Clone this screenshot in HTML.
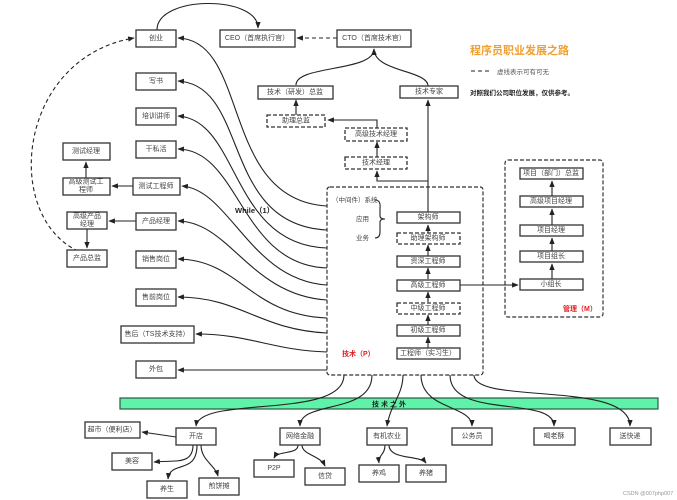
<!DOCTYPE html>
<html><head><meta charset="utf-8"><style>
body{margin:0;background:#fff;}
svg{display:block;font-family:"Liberation Sans","Noto Sans CJK SC",sans-serif;}
.b{fill:#fff;stroke:#333;stroke-width:1.3;}
.d{fill:#fff;stroke:#333;stroke-width:1.3;stroke-dasharray:4 2;}
.t{font-size:7px;fill:#444;text-anchor:middle;dominant-baseline:central;}
.l{fill:none;stroke:#222;stroke-width:1.1;}
.ld{fill:none;stroke:#222;stroke-width:1.1;stroke-dasharray:4 3;}
</style></head><body>
<svg width="677" height="500" viewBox="0 0 677 500">
<defs><marker id="a" viewBox="0 0 10 10" refX="9" refY="5" markerWidth="6" markerHeight="6" orient="auto"><path d="M0,1 L10,5 L0,9 z" fill="#222"/></marker></defs>

<!-- top chain -->
<path class="l" d="M157,30 C157,-5 258,-5 258,28" marker-end="url(#a)"/>
<path class="ld" d="M337,38 L297,38" marker-end="url(#a)"/>
<path class="l" d="M296,85 C296,65 374,72 374,49" marker-end="url(#a)"/>
<path class="l" d="M428,86 C428,70 374,72 374,49" marker-end="url(#a)"/>
<path class="ld" d="M105,258 C0,250 5,60 134,38" marker-end="url(#a)"/>

<!-- left curves from dashed box -->
<g class="l">
<path d="M327,206 C220,200 250,40 178,38" marker-end="url(#a)"/>
<path d="M327,230 C220,225 250,85 178,81" marker-end="url(#a)"/>
<path d="M327,248 C230,245 240,120 178,116" marker-end="url(#a)"/>
<path d="M327,268 C240,265 240,150 178,149" marker-end="url(#a)"/>
<path d="M327,285 C250,280 230,190 182,186" marker-end="url(#a)"/>
<path d="M327,300 C250,295 230,222 178,221" marker-end="url(#a)"/>
<path d="M327,318 C250,315 240,260 178,259" marker-end="url(#a)"/>
<path d="M327,333 C260,330 240,297 178,297" marker-end="url(#a)"/>
<path d="M327,352 C270,350 250,334 196,334" marker-end="url(#a)"/>
<path d="M327,370 L178,370" marker-end="url(#a)"/>
</g>
<path class="l" d="M133,186 L112,186" marker-end="url(#a)"/>
<path class="l" d="M86,178 L86,162" marker-end="url(#a)"/>
<path class="l" d="M136,221 L109,221" marker-end="url(#a)"/>
<path class="l" d="M87,229 L87,248" marker-end="url(#a)"/>

<!-- boxes left -->
<rect class="b" x="136" y="30" width="40" height="17"/><text class="t" x="156" y="38.5">创业</text>
<rect class="b" x="220" y="30" width="75" height="17"/><text class="t" x="257" y="38.5">CEO（首席执行官）</text>
<rect class="b" x="337" y="30" width="74" height="17"/><text class="t" x="374" y="38.5">CTO（首席技术官）</text>
<rect class="b" x="136" y="73" width="40" height="17"/><text class="t" x="156" y="81.5">写书</text>
<rect class="b" x="136" y="108" width="40" height="17"/><text class="t" x="156" y="116.5">培训讲师</text>
<rect class="b" x="136" y="141" width="40" height="17"/><text class="t" x="156" y="149.5">干私活</text>
<rect class="b" x="63" y="143" width="47" height="17"/><text class="t" x="86" y="151.5">测试经理</text>
<rect class="b" x="63" y="178" width="47" height="17"/><text class="t" x="86" y="182">高级测试工</text><text class="t" x="86" y="190">程师</text>
<rect class="b" x="133" y="178" width="47" height="17"/><text class="t" x="156" y="186.5">测试工程师</text>
<rect class="b" x="67" y="212" width="40" height="17"/><text class="t" x="87" y="216.5">高级产品</text><text class="t" x="87" y="224.5">经理</text>
<rect class="b" x="136" y="213" width="40" height="17"/><text class="t" x="156" y="221.5">产品经理</text>
<rect class="b" x="67" y="250" width="40" height="17"/><text class="t" x="87" y="258.5">产品总监</text>
<rect class="b" x="136" y="251" width="40" height="17"/><text class="t" x="156" y="259.5">销售岗位</text>
<rect class="b" x="136" y="289" width="40" height="17"/><text class="t" x="156" y="297.5">售前岗位</text>
<rect class="b" x="121" y="326" width="73" height="17"/><text class="t" x="157" y="334.5">售后（TS技术支持）</text>
<rect class="b" x="136" y="361" width="40" height="17"/><text class="t" x="156" y="369.5">外包</text>
<text x="235" y="213" style="font-size:7.5px;font-weight:bold;fill:#222">While（1）</text>

<!-- tech ladder -->
<path class="l" d="M428,213 L428,100" marker-end="url(#a)"/>
<path class="l" d="M428,181 L377,181 L377,171" marker-end="url(#a)"/>
<path class="l" d="M377,157 L377,142" marker-end="url(#a)"/>
<path class="l" d="M377,128 L377,120 L328,120" marker-end="url(#a)"/>
<path class="l" d="M296,115 L296,100" marker-end="url(#a)"/>
<rect class="b" x="258" y="86" width="75" height="13"/><text class="t" x="295" y="92.5">技术（研发）总监</text>
<rect class="d" x="267" y="115" width="58" height="12"/><text class="t" x="296" y="121">助理总监</text>
<rect class="d" x="345" y="128" width="62" height="13"/><text class="t" x="376" y="134.5">高级技术经理</text>
<rect class="d" x="345" y="157" width="62" height="12"/><text class="t" x="376" y="163">技术经理</text>
<rect class="b" x="400" y="86" width="58" height="12"/><text class="t" x="429" y="92">技术专家</text>

<rect x="327" y="187" width="156" height="188" rx="3" fill="none" stroke="#333" stroke-width="1.2" stroke-dasharray="4 2"/>
<text x="332" y="202" style="font-size:6.5px;fill:#444">（中间件）系统</text>
<text x="356" y="221" style="font-size:6.5px;fill:#444">应用</text>
<text x="356" y="240" style="font-size:6.5px;fill:#444">业务</text>
<path class="l" d="M375,200 Q381,200 380,208 L380,216 Q380,219 385,219 Q380,219 380,222 L380,232 Q380,238 375,238"/>
<path class="l" d="M460,285 L518,285" marker-end="url(#a)"/>
<g class="l">
<path d="M428,233 L428,225" marker-end="url(#a)"/>
<path d="M428,256 L428,245" marker-end="url(#a)"/>
<path d="M428,279 L428,268" marker-end="url(#a)"/>
<path d="M428,302 L428,292" marker-end="url(#a)"/>
<path d="M428,325 L428,315" marker-end="url(#a)"/>
<path d="M428,348 L428,337" marker-end="url(#a)"/>
</g>
<rect class="b" x="397" y="212" width="63" height="11"/><text class="t" x="428" y="217.5">架构师</text>
<rect class="d" x="397" y="233" width="63" height="11"/><text class="t" x="428" y="238.5">助理架构师</text>
<rect class="b" x="397" y="256" width="63" height="11"/><text class="t" x="428" y="261.5">资深工程师</text>
<rect class="b" x="397" y="280" width="63" height="11"/><text class="t" x="428" y="285.5">高级工程师</text>
<rect class="d" x="397" y="303" width="63" height="11"/><text class="t" x="428" y="308.5">中级工程师</text>
<rect class="b" x="397" y="325" width="63" height="11"/><text class="t" x="428" y="330.5">初级工程师</text>
<rect class="b" x="397" y="348" width="63" height="11"/><text class="t" x="428" y="353.5">工程师（实习生）</text>
<text x="342" y="356" style="font-size:7px;font-weight:bold;fill:#e02020">技术（P）</text>

<!-- management -->
<rect x="505" y="160" width="98" height="157" rx="3" fill="none" stroke="#333" stroke-width="1.2" stroke-dasharray="4 2"/>
<g class="l">
<path d="M552,196 L552,181" marker-end="url(#a)"/>
<path d="M552,225 L552,209" marker-end="url(#a)"/>
<path d="M552,251 L552,238" marker-end="url(#a)"/>
<path d="M552,279 L552,264" marker-end="url(#a)"/>
</g>
<rect class="b" x="520" y="168" width="63" height="11"/><text class="t" x="551" y="173.5">项目（部门）总监</text>
<rect class="b" x="520" y="196" width="63" height="11"/><text class="t" x="551" y="201.5">高级项目经理</text>
<rect class="b" x="520" y="225" width="63" height="11"/><text class="t" x="551" y="230.5">项目经理</text>
<rect class="b" x="520" y="251" width="63" height="11"/><text class="t" x="551" y="256.5">项目组长</text>
<rect class="b" x="520" y="279" width="63" height="11"/><text class="t" x="551" y="284.5">小组长</text>
<text x="563" y="311" style="font-size:7px;font-weight:bold;fill:#e02020">管理（M）</text>

<!-- legend -->
<text x="470" y="54" style="font-size:11px;font-weight:bold;fill:#f0a030">程序员职业发展之路</text>
<path class="ld" d="M471,71 L492,71"/>
<text x="497" y="74" style="font-size:6.5px;fill:#555">虚线表示可有可无</text>
<text x="470" y="95" style="font-size:6.5px;font-weight:bold;fill:#222">对照我们公司职位发展，仅供参考。</text>

<!-- green bar -->
<rect x="120" y="398" width="538" height="11" fill="#5ff2a8" stroke="#2a5a40" stroke-width="1.2"/>
<text x="372" y="406.5" style="font-size:7px;font-weight:bold;fill:#222;letter-spacing:2px">技术之外</text>

<g class="l">
<path d="M344,375 C344,420 200,395 196,426" marker-end="url(#a)"/>
<path d="M372,375 C372,415 300,400 300,426" marker-end="url(#a)"/>
<path d="M403,375 C403,395 390,405 387,426" marker-end="url(#a)"/>
<path d="M421,375 C421,410 472,405 472,426" marker-end="url(#a)"/>
<path d="M450,375 C450,420 554,395 554,426" marker-end="url(#a)"/>
<path d="M474,375 C474,405 630,380 630,426" marker-end="url(#a)"/>
<path d="M176,437 L142,432" marker-end="url(#a)"/>
<path d="M193,445 C193,465 175,460 154,462" marker-end="url(#a)"/>
<path d="M197,445 C197,475 170,460 168,479" marker-end="url(#a)"/>
<path d="M201,445 C201,460 215,465 218,476" marker-end="url(#a)"/>
<path d="M298,445 C298,455 278,450 274,458" marker-end="url(#a)"/>
<path d="M302,445 C302,455 320,455 325,466" marker-end="url(#a)"/>
<path d="M385,445 C385,455 378,455 379,463" marker-end="url(#a)"/>
<path d="M389,445 C389,460 420,455 426,463" marker-end="url(#a)"/>
</g>
<rect class="b" x="85" y="422" width="55" height="16"/><text class="t" x="112" y="430">超市（便利店）</text>
<rect class="b" x="176" y="428" width="40" height="17"/><text class="t" x="196" y="436.5">开店</text>
<rect class="b" x="112" y="453" width="40" height="17"/><text class="t" x="132" y="461.5">美容</text>
<rect class="b" x="147" y="481" width="40" height="17"/><text class="t" x="167" y="489.5">养生</text>
<rect class="b" x="199" y="478" width="40" height="17"/><text class="t" x="219" y="486.5">煎饼摊</text>
<rect class="b" x="280" y="428" width="40" height="17"/><text class="t" x="300" y="436.5">网络金融</text>
<rect class="b" x="254" y="460" width="40" height="17"/><text class="t" x="274" y="468.5">P2P</text>
<rect class="b" x="305" y="468" width="40" height="17"/><text class="t" x="325" y="476.5">信贷</text>
<rect class="b" x="367" y="428" width="40" height="17"/><text class="t" x="387" y="436.5">有机农业</text>
<rect class="b" x="359" y="465" width="40" height="17"/><text class="t" x="379" y="473.5">养鸡</text>
<rect class="b" x="406" y="465" width="40" height="17"/><text class="t" x="426" y="473.5">养猪</text>
<rect class="b" x="452" y="428" width="40" height="17"/><text class="t" x="472" y="436.5">公务员</text>
<rect class="b" x="534" y="428" width="41" height="17"/><text class="t" x="554" y="436.5">喝老酥</text>
<rect class="b" x="610" y="428" width="41" height="17"/><text class="t" x="630" y="436.5">送快递</text>
<text x="623" y="495" style="font-size:5.5px;fill:#999">CSDN @007php007</text>
</svg>
</body></html>
